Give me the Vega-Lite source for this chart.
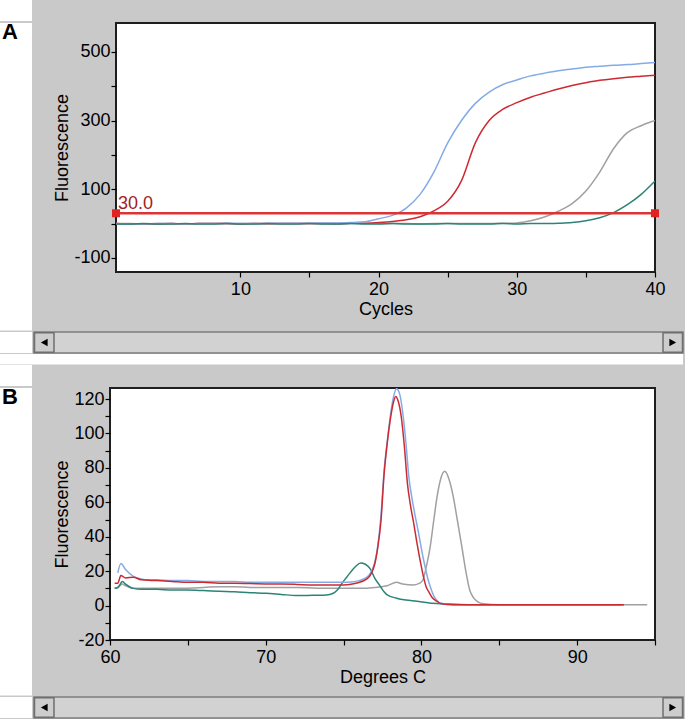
{
  "$schema": "https://vega.github.io/schema/vega-lite/v6.json",
  "background": "#c9c9c9",
  "padding": 0,
  "spacing": 0,
  "config": {
    "view": {"stroke": null},
    "font": "Liberation Sans",
    "axis": {"grid": false, "domain": false, "tickColor": "#000", "tickSize": 5, "tickWidth": 1.2, "labelColor": "#000", "labelFontSize": 18, "labelFont": "Liberation Sans", "titleFont": "Liberation Sans", "titleFontSize": 18, "titleFontWeight": "normal", "titleColor": "#000", "labelFlush": false, "labelOverlap": false},
    "axisX": {"labelPadding": 3, "titlePadding": 2},
    "axisY": {"labelPadding": 1, "titlePadding": 2}
  },
  "datasets": {
    "ampl": [
      {"cycle":1,"fluor":0,"series":"gray"},{"cycle":2,"fluor":0,"series":"gray"},{"cycle":3,"fluor":-1,"series":"gray"},{"cycle":4,"fluor":0,"series":"gray"},{"cycle":5,"fluor":0,"series":"gray"},{"cycle":6,"fluor":-1,"series":"gray"},{"cycle":7,"fluor":0,"series":"gray"},{"cycle":8,"fluor":0,"series":"gray"},{"cycle":9,"fluor":0,"series":"gray"},{"cycle":10,"fluor":0,"series":"gray"},
      {"cycle":11,"fluor":0,"series":"gray"},{"cycle":12,"fluor":-1,"series":"gray"},{"cycle":13,"fluor":0,"series":"gray"},{"cycle":14,"fluor":0,"series":"gray"},{"cycle":15,"fluor":0,"series":"gray"},{"cycle":16,"fluor":0,"series":"gray"},{"cycle":17,"fluor":-1,"series":"gray"},{"cycle":18,"fluor":0,"series":"gray"},{"cycle":19,"fluor":0,"series":"gray"},{"cycle":20,"fluor":0,"series":"gray"},
      {"cycle":21,"fluor":0,"series":"gray"},{"cycle":22,"fluor":0,"series":"gray"},{"cycle":23,"fluor":-1,"series":"gray"},{"cycle":24,"fluor":0,"series":"gray"},{"cycle":25,"fluor":0,"series":"gray"},{"cycle":26,"fluor":0,"series":"gray"},{"cycle":27,"fluor":0,"series":"gray"},{"cycle":28,"fluor":0,"series":"gray"},{"cycle":29,"fluor":1,"series":"gray"},{"cycle":30,"fluor":2,"series":"gray"},
      {"cycle":31,"fluor":8,"series":"gray"},{"cycle":32,"fluor":19,"series":"gray"},{"cycle":33,"fluor":36,"series":"gray"},{"cycle":34,"fluor":58,"series":"gray"},{"cycle":35,"fluor":95,"series":"gray"},{"cycle":36,"fluor":150,"series":"gray"},{"cycle":37,"fluor":218,"series":"gray"},{"cycle":38,"fluor":265,"series":"gray"},{"cycle":39,"fluor":285,"series":"gray"},{"cycle":40,"fluor":300,"series":"gray"},
      {"cycle":1,"fluor":0,"series":"red"},{"cycle":2,"fluor":-1,"series":"red"},{"cycle":3,"fluor":-1,"series":"red"},{"cycle":4,"fluor":-1,"series":"red"},{"cycle":5,"fluor":0,"series":"red"},{"cycle":6,"fluor":-1,"series":"red"},{"cycle":7,"fluor":0,"series":"red"},{"cycle":8,"fluor":0,"series":"red"},{"cycle":9,"fluor":0,"series":"red"},{"cycle":10,"fluor":-1,"series":"red"},
      {"cycle":11,"fluor":0,"series":"red"},{"cycle":12,"fluor":0,"series":"red"},{"cycle":13,"fluor":0,"series":"red"},{"cycle":14,"fluor":0,"series":"red"},{"cycle":15,"fluor":0,"series":"red"},{"cycle":16,"fluor":0,"series":"red"},{"cycle":17,"fluor":0,"series":"red"},{"cycle":18,"fluor":1,"series":"red"},{"cycle":19,"fluor":1,"series":"red"},{"cycle":20,"fluor":3,"series":"red"},
      {"cycle":21,"fluor":6,"series":"red"},{"cycle":22,"fluor":11,"series":"red"},{"cycle":23,"fluor":20,"series":"red"},{"cycle":24,"fluor":37,"series":"red"},{"cycle":25,"fluor":65,"series":"red"},{"cycle":26,"fluor":125,"series":"red"},{"cycle":27,"fluor":235,"series":"red"},{"cycle":28,"fluor":300,"series":"red"},{"cycle":29,"fluor":333,"series":"red"},{"cycle":30,"fluor":352,"series":"red"},
      {"cycle":31,"fluor":368,"series":"red"},{"cycle":32,"fluor":380,"series":"red"},{"cycle":33,"fluor":392,"series":"red"},{"cycle":34,"fluor":402,"series":"red"},{"cycle":35,"fluor":410,"series":"red"},{"cycle":36,"fluor":417,"series":"red"},{"cycle":37,"fluor":422,"series":"red"},{"cycle":38,"fluor":426,"series":"red"},{"cycle":39,"fluor":429,"series":"red"},{"cycle":40,"fluor":432,"series":"red"},
      {"cycle":1,"fluor":0,"series":"blue"},{"cycle":2,"fluor":-1,"series":"blue"},{"cycle":3,"fluor":-1,"series":"blue"},{"cycle":4,"fluor":0,"series":"blue"},{"cycle":5,"fluor":0,"series":"blue"},{"cycle":6,"fluor":-1,"series":"blue"},{"cycle":7,"fluor":0,"series":"blue"},{"cycle":8,"fluor":0,"series":"blue"},{"cycle":9,"fluor":1,"series":"blue"},{"cycle":10,"fluor":0,"series":"blue"},
      {"cycle":11,"fluor":0,"series":"blue"},{"cycle":12,"fluor":1,"series":"blue"},{"cycle":13,"fluor":1,"series":"blue"},{"cycle":14,"fluor":1,"series":"blue"},{"cycle":15,"fluor":1,"series":"blue"},{"cycle":16,"fluor":2,"series":"blue"},{"cycle":17,"fluor":2,"series":"blue"},{"cycle":18,"fluor":3,"series":"blue"},{"cycle":19,"fluor":5,"series":"blue"},{"cycle":20,"fluor":14,"series":"blue"},
      {"cycle":21,"fluor":24,"series":"blue"},{"cycle":22,"fluor":45,"series":"blue"},{"cycle":23,"fluor":85,"series":"blue"},{"cycle":24,"fluor":150,"series":"blue"},{"cycle":25,"fluor":235,"series":"blue"},{"cycle":26,"fluor":300,"series":"blue"},{"cycle":27,"fluor":350,"series":"blue"},{"cycle":28,"fluor":383,"series":"blue"},{"cycle":29,"fluor":405,"series":"blue"},{"cycle":30,"fluor":418,"series":"blue"},
      {"cycle":31,"fluor":430,"series":"blue"},{"cycle":32,"fluor":438,"series":"blue"},{"cycle":33,"fluor":445,"series":"blue"},{"cycle":34,"fluor":450,"series":"blue"},{"cycle":35,"fluor":455,"series":"blue"},{"cycle":36,"fluor":458,"series":"blue"},{"cycle":37,"fluor":461,"series":"blue"},{"cycle":38,"fluor":463,"series":"blue"},{"cycle":39,"fluor":466,"series":"blue"},{"cycle":40,"fluor":469,"series":"blue"},
      {"cycle":1,"fluor":-1,"series":"teal"},{"cycle":2,"fluor":-1,"series":"teal"},{"cycle":3,"fluor":0,"series":"teal"},{"cycle":4,"fluor":-1,"series":"teal"},{"cycle":5,"fluor":-1,"series":"teal"},{"cycle":6,"fluor":0,"series":"teal"},{"cycle":7,"fluor":-1,"series":"teal"},{"cycle":8,"fluor":-1,"series":"teal"},{"cycle":9,"fluor":0,"series":"teal"},{"cycle":10,"fluor":-1,"series":"teal"},
      {"cycle":11,"fluor":-1,"series":"teal"},{"cycle":12,"fluor":0,"series":"teal"},{"cycle":13,"fluor":-1,"series":"teal"},{"cycle":14,"fluor":-1,"series":"teal"},{"cycle":15,"fluor":0,"series":"teal"},{"cycle":16,"fluor":-1,"series":"teal"},{"cycle":17,"fluor":-1,"series":"teal"},{"cycle":18,"fluor":0,"series":"teal"},{"cycle":19,"fluor":-1,"series":"teal"},{"cycle":20,"fluor":-1,"series":"teal"},
      {"cycle":21,"fluor":0,"series":"teal"},{"cycle":22,"fluor":-1,"series":"teal"},{"cycle":23,"fluor":-1,"series":"teal"},{"cycle":24,"fluor":-1,"series":"teal"},{"cycle":25,"fluor":0,"series":"teal"},{"cycle":26,"fluor":-1,"series":"teal"},{"cycle":27,"fluor":-1,"series":"teal"},{"cycle":28,"fluor":-1,"series":"teal"},{"cycle":29,"fluor":0,"series":"teal"},{"cycle":30,"fluor":-1,"series":"teal"},
      {"cycle":31,"fluor":0,"series":"teal"},{"cycle":32,"fluor":0,"series":"teal"},{"cycle":33,"fluor":1,"series":"teal"},{"cycle":34,"fluor":3,"series":"teal"},{"cycle":35,"fluor":8,"series":"teal"},{"cycle":36,"fluor":17,"series":"teal"},{"cycle":37,"fluor":32,"series":"teal"},{"cycle":38,"fluor":55,"series":"teal"},{"cycle":39,"fluor":85,"series":"teal"},{"cycle":40,"fluor":124,"series":"teal"}
    ],
    "melt": [
      {"temp":60.3,"fluor":10,"series":"gray"},{"temp":60.5,"fluor":10.5,"series":"gray"},{"temp":60.8,"fluor":12.5,"series":"gray"},{"temp":61.0,"fluor":11.5,"series":"gray"},{"temp":61.5,"fluor":10,"series":"gray"},{"temp":62,"fluor":10,"series":"gray"},{"temp":64,"fluor":10,"series":"gray"},{"temp":66,"fluor":10.5,"series":"gray"},{"temp":67,"fluor":11,"series":"gray"},{"temp":68,"fluor":11,"series":"gray"},{"temp":69,"fluor":10.5,"series":"gray"},{"temp":70,"fluor":10.5,"series":"gray"},{"temp":72,"fluor":10.5,"series":"gray"},{"temp":74,"fluor":10,"series":"gray"},{"temp":75,"fluor":10,"series":"gray"},{"temp":76,"fluor":10,"series":"gray"},{"temp":77,"fluor":10.5,"series":"gray"},{"temp":77.8,"fluor":11.5,"series":"gray"},{"temp":78.4,"fluor":13.5,"series":"gray"},{"temp":78.8,"fluor":12.5,"series":"gray"},{"temp":79.5,"fluor":12,"series":"gray"},{"temp":79.9,"fluor":13,"series":"gray"},{"temp":80.1,"fluor":15,"series":"gray"},{"temp":80.3,"fluor":22,"series":"gray"},{"temp":80.56,"fluor":34,"series":"gray"},{"temp":80.8,"fluor":50,"series":"gray"},{"temp":81.0,"fluor":63,"series":"gray"},{"temp":81.25,"fluor":74,"series":"gray"},{"temp":81.5,"fluor":78,"series":"gray"},{"temp":81.75,"fluor":74,"series":"gray"},{"temp":82.05,"fluor":63,"series":"gray"},{"temp":82.3,"fluor":50,"series":"gray"},{"temp":82.6,"fluor":34,"series":"gray"},{"temp":82.85,"fluor":20,"series":"gray"},{"temp":83.1,"fluor":9,"series":"gray"},{"temp":83.35,"fluor":4.5,"series":"gray"},{"temp":83.6,"fluor":2.3,"series":"gray"},{"temp":84,"fluor":1,"series":"gray"},{"temp":85,"fluor":0.5,"series":"gray"},{"temp":88,"fluor":0.5,"series":"gray"},{"temp":91,"fluor":0.5,"series":"gray"},{"temp":94.5,"fluor":0.5,"series":"gray"},
      {"temp":60.3,"fluor":10,"series":"teal"},{"temp":60.5,"fluor":10.5,"series":"teal"},{"temp":60.8,"fluor":14,"series":"teal"},{"temp":61.0,"fluor":12.5,"series":"teal"},{"temp":61.5,"fluor":10,"series":"teal"},{"temp":62,"fluor":9.5,"series":"teal"},{"temp":63,"fluor":9.5,"series":"teal"},{"temp":64,"fluor":9,"series":"teal"},{"temp":65,"fluor":9,"series":"teal"},{"temp":66,"fluor":8.7,"series":"teal"},{"temp":67,"fluor":8.3,"series":"teal"},{"temp":68,"fluor":8,"series":"teal"},{"temp":69,"fluor":7.5,"series":"teal"},{"temp":70,"fluor":7.2,"series":"teal"},{"temp":71,"fluor":6.5,"series":"teal"},{"temp":72,"fluor":5.8,"series":"teal"},{"temp":73,"fluor":6.0,"series":"teal"},{"temp":73.9,"fluor":6.2,"series":"teal"},{"temp":74.3,"fluor":7,"series":"teal"},{"temp":74.6,"fluor":9,"series":"teal"},{"temp":74.9,"fluor":13,"series":"teal"},{"temp":75.2,"fluor":16.5,"series":"teal"},{"temp":75.5,"fluor":20,"series":"teal"},{"temp":75.8,"fluor":23,"series":"teal"},{"temp":76.1,"fluor":24.7,"series":"teal"},{"temp":76.4,"fluor":24,"series":"teal"},{"temp":76.7,"fluor":21.5,"series":"teal"},{"temp":77.0,"fluor":16,"series":"teal"},{"temp":77.3,"fluor":12,"series":"teal"},{"temp":77.6,"fluor":8,"series":"teal"},{"temp":77.8,"fluor":6.2,"series":"teal"},{"temp":78.4,"fluor":4.3,"series":"teal"},{"temp":79,"fluor":3.2,"series":"teal"},{"temp":79.7,"fluor":2.5,"series":"teal"},{"temp":80.5,"fluor":1.5,"series":"teal"},{"temp":81.5,"fluor":1,"series":"teal"},{"temp":83,"fluor":0.5,"series":"teal"},{"temp":86,"fluor":0.5,"series":"teal"},{"temp":89,"fluor":0.5,"series":"teal"},{"temp":92.8,"fluor":0.5,"series":"teal"},
      {"temp":60.5,"fluor":19,"series":"blue"},{"temp":60.7,"fluor":24.5,"series":"blue"},{"temp":61.0,"fluor":21,"series":"blue"},{"temp":61.5,"fluor":17,"series":"blue"},{"temp":62.0,"fluor":15.5,"series":"blue"},{"temp":62.5,"fluor":15,"series":"blue"},{"temp":63,"fluor":15,"series":"blue"},{"temp":64,"fluor":14.5,"series":"blue"},{"temp":65,"fluor":14.5,"series":"blue"},{"temp":66,"fluor":14,"series":"blue"},{"temp":67,"fluor":14,"series":"blue"},{"temp":68,"fluor":14,"series":"blue"},{"temp":69,"fluor":13.5,"series":"blue"},{"temp":70,"fluor":13.5,"series":"blue"},{"temp":72,"fluor":13.5,"series":"blue"},{"temp":74,"fluor":13.5,"series":"blue"},{"temp":75,"fluor":13.5,"series":"blue"},{"temp":75.5,"fluor":13.7,"series":"blue"},{"temp":76.0,"fluor":14.5,"series":"blue"},{"temp":76.5,"fluor":16.5,"series":"blue"},{"temp":76.8,"fluor":20,"series":"blue"},{"temp":77.0,"fluor":25,"series":"blue"},{"temp":77.2,"fluor":35,"series":"blue"},{"temp":77.4,"fluor":52,"series":"blue"},{"temp":77.6,"fluor":78,"series":"blue"},{"temp":77.8,"fluor":95,"series":"blue"},{"temp":78.0,"fluor":110,"series":"blue"},{"temp":78.2,"fluor":121,"series":"blue"},{"temp":78.4,"fluor":126,"series":"blue"},{"temp":78.6,"fluor":123,"series":"blue"},{"temp":78.8,"fluor":112,"series":"blue"},{"temp":79.0,"fluor":95,"series":"blue"},{"temp":79.2,"fluor":74,"series":"blue"},{"temp":79.4,"fluor":62,"series":"blue"},{"temp":79.6,"fluor":52,"series":"blue"},{"temp":79.8,"fluor":43,"series":"blue"},{"temp":80.0,"fluor":33,"series":"blue"},{"temp":80.2,"fluor":24,"series":"blue"},{"temp":80.4,"fluor":16,"series":"blue"},{"temp":80.6,"fluor":10,"series":"blue"},{"temp":80.8,"fluor":5.5,"series":"blue"},{"temp":81.0,"fluor":3,"series":"blue"},{"temp":81.2,"fluor":1.5,"series":"blue"},{"temp":81.7,"fluor":0.8,"series":"blue"},{"temp":82,"fluor":0.5,"series":"blue"},{"temp":86,"fluor":0.5,"series":"blue"},{"temp":90,"fluor":0.5,"series":"blue"},{"temp":93,"fluor":0.5,"series":"blue"},
      {"temp":60.3,"fluor":13,"series":"red"},{"temp":60.5,"fluor":13,"series":"red"},{"temp":60.7,"fluor":17.5,"series":"red"},{"temp":61.0,"fluor":16,"series":"red"},{"temp":61.5,"fluor":16.5,"series":"red"},{"temp":62,"fluor":15,"series":"red"},{"temp":63,"fluor":14.5,"series":"red"},{"temp":64,"fluor":14,"series":"red"},{"temp":65,"fluor":13.5,"series":"red"},{"temp":66,"fluor":13.5,"series":"red"},{"temp":67,"fluor":13,"series":"red"},{"temp":68,"fluor":13,"series":"red"},{"temp":69,"fluor":12.8,"series":"red"},{"temp":70,"fluor":12.6,"series":"red"},{"temp":71,"fluor":12.5,"series":"red"},{"temp":72,"fluor":12.3,"series":"red"},{"temp":73,"fluor":12,"series":"red"},{"temp":74,"fluor":12,"series":"red"},{"temp":75,"fluor":12,"series":"red"},{"temp":75.8,"fluor":13,"series":"red"},{"temp":76.5,"fluor":15.5,"series":"red"},{"temp":76.8,"fluor":19,"series":"red"},{"temp":77.0,"fluor":24,"series":"red"},{"temp":77.2,"fluor":34,"series":"red"},{"temp":77.4,"fluor":49,"series":"red"},{"temp":77.6,"fluor":76,"series":"red"},{"temp":77.8,"fluor":94,"series":"red"},{"temp":78.0,"fluor":108,"series":"red"},{"temp":78.2,"fluor":118,"series":"red"},{"temp":78.35,"fluor":121.5,"series":"red"},{"temp":78.5,"fluor":119,"series":"red"},{"temp":78.7,"fluor":110,"series":"red"},{"temp":78.9,"fluor":93,"series":"red"},{"temp":79.1,"fluor":71,"series":"red"},{"temp":79.3,"fluor":58,"series":"red"},{"temp":79.5,"fluor":48,"series":"red"},{"temp":79.7,"fluor":37,"series":"red"},{"temp":79.9,"fluor":27,"series":"red"},{"temp":80.1,"fluor":18,"series":"red"},{"temp":80.3,"fluor":11,"series":"red"},{"temp":80.5,"fluor":7.5,"series":"red"},{"temp":80.7,"fluor":4.5,"series":"red"},{"temp":81.0,"fluor":2.5,"series":"red"},{"temp":81.3,"fluor":1,"series":"red"},{"temp":82,"fluor":0.5,"series":"red"},{"temp":86,"fluor":0.5,"series":"red"},{"temp":90,"fluor":0.5,"series":"red"},{"temp":93,"fluor":0.5,"series":"red"}
    ]
  },
  "vconcat": [
    {"width": 32, "height": 21, "view": {"fill": "white", "stroke": null}, "data": {"values": []}, "mark": "point"},
    {
      "spacing": 20,
      "hconcat": [
        {
          "width": 32, "height": 307.5,
          "view": {"fill": "white", "stroke": null},
          "data": {"values": [{"panel": "A"}]},
          "mark": {"type": "text", "fontSize": 22, "fontWeight": "bold", "align": "left", "baseline": "top", "dx": -14, "dy": -154.75, "color": "#000"},
          "encoding": {"text": {"field": "panel"}}
        },
        {
          "width": 539, "height": 249,
          "view": {"fill": "white", "stroke": "#1e1e1e", "strokeWidth": 2},
          "encoding": {
            "x": {"field": "cycle", "type": "quantitative", "title": "Cycles",
                  "scale": {"domain": [1, 40], "nice": false, "zero": false},
                  "axis": {"values": [10, 15, 20, 25, 30, 35, 40], "labelExpr": "datum.value % 10 === 0 ? datum.label : ''"}},
            "y": {"field": "fluor", "type": "quantitative", "title": "Fluorescence",
                  "scale": {"domain": [-141, 584], "nice": false, "zero": false},
                  "axis": {"values": [-100, 0, 100, 200, 300, 400, 500], "labelExpr": "datum.value % 200 !== 0 ? replace(datum.label, '\u2212', '-') : ''"}}
          },
          "layer": [
            {
              "data": {"name": "ampl"},
              "mark": {"type": "line", "strokeWidth": 1.5, "clip": true, "interpolate": "monotone"},
              "encoding": {
                "color": {"field": "series", "type": "nominal", "legend": null,
                          "scale": {"domain": ["blue", "red", "gray", "teal"], "range": ["#84abe6", "#cc2a33", "#a0a0a0", "#2b8475"]}}
              }
            },
            {
              "data": {"values": [{"cycle": 1, "cycle_end": 40, "fluor": 30}]},
              "mark": {"type": "rule", "color": "#dc3434", "strokeWidth": 2.5},
              "encoding": {"x2": {"field": "cycle_end"}}
            },
            {
              "data": {"values": [{"cycle": 1, "fluor": 30}, {"cycle": 40, "fluor": 30}]},
              "mark": {"type": "point", "shape": "square", "size": 64, "filled": true, "color": "#e02424", "opacity": 1, "clip": false}
            },
            {
              "data": {"values": [{"cycle": 1, "fluor": 30, "label": "30.0"}]},
              "mark": {"type": "text", "align": "left", "baseline": "alphabetic", "dx": 2, "dy": -4, "fontSize": 18, "color": "#a41c1c"},
              "encoding": {"text": {"field": "label"}}
            }
          ]
        }
      ]
    },
    {
      "spacing": 0,
      "hconcat": [
        {"width": 32, "height": 21, "view": {"fill": "white", "stroke": null}, "data": {"values": []}, "mark": "point"},
        {
          "width": 649, "height": 21,
          "view": {"fill": "#d2d2d2", "stroke": "#7d7d7d", "strokeWidth": 1.5},
          "data": {"values": [{"side": "left"}, {"side": "right"}]},
          "encoding": {"x": {"field": "side", "type": "nominal", "scale": {"type": "point", "padding": 0.0163}, "axis": null}},
          "layer": [
            {"mark": {"type": "point", "shape": "square", "size": 380, "filled": true, "fill": "#cdcdcd", "stroke": "#6f6f6f", "strokeWidth": 1.5, "strokeJoin": "round", "opacity": 1}},
            {"mark": {"type": "point", "filled": true, "size": 60, "color": "#000", "opacity": 1},
             "encoding": {"shape": {"field": "side", "type": "nominal", "legend": null, "scale": {"domain": ["left", "right"], "range": ["triangle-left", "triangle-right"]}}}}
          ]
        }
      ]
    },
    {"width": 683, "height": 10.5, "view": {"fill": "white", "stroke": null}, "data": {"values": []}, "mark": "point"},
    {"width": 32, "height": 21, "view": {"fill": "white", "stroke": null}, "data": {"values": []}, "mark": "point"},
    {
      "spacing": 20,
      "hconcat": [
        {
          "width": 32, "height": 307.5,
          "view": {"fill": "white", "stroke": null},
          "data": {"values": [{"panel": "B"}]},
          "mark": {"type": "text", "fontSize": 22, "fontWeight": "bold", "align": "left", "baseline": "top", "dx": -14, "dy": -154.75, "color": "#000"},
          "encoding": {"text": {"field": "panel"}}
        },
        {
          "width": 545, "height": 252,
          "view": {"fill": "white", "stroke": "#1e1e1e", "strokeWidth": 2},
          "data": {"name": "melt"},
          "mark": {"type": "line", "strokeWidth": 1.5, "clip": true, "interpolate": "monotone"},
          "encoding": {
            "x": {"field": "temp", "type": "quantitative", "title": "Degrees C",
                  "scale": {"domain": [60, 95], "nice": false, "zero": false},
                  "axis": {"values": [60, 65, 70, 75, 80, 85, 90, 95], "labelExpr": "datum.value % 10 === 0 ? datum.label : ''"}},
            "y": {"field": "fluor", "type": "quantitative", "title": "Fluorescence",
                  "scale": {"domain": [-20, 126.4], "nice": false, "zero": false},
                  "axis": {"values": [-20, -10, 0, 10, 20, 30, 40, 50, 60, 70, 80, 90, 100, 110, 120], "labelExpr": "datum.value % 20 === 0 ? replace(datum.label, '\u2212', '-') : ''"}},
            "color": {"field": "series", "type": "nominal", "legend": null,
                      "scale": {"domain": ["blue", "red", "gray", "teal"], "range": ["#84abe6", "#cc2a33", "#8f8f8f", "#2b8475"]}}
          }
        }
      ]
    },
    {
      "spacing": 0,
      "hconcat": [
        {"width": 32, "height": 21, "view": {"fill": "white", "stroke": null}, "data": {"values": []}, "mark": "point"},
        {
          "width": 649, "height": 21,
          "view": {"fill": "#d2d2d2", "stroke": "#7d7d7d", "strokeWidth": 1.5},
          "data": {"values": [{"side": "left"}, {"side": "right"}]},
          "encoding": {"x": {"field": "side", "type": "nominal", "scale": {"type": "point", "padding": 0.0163}, "axis": null}},
          "layer": [
            {"mark": {"type": "point", "shape": "square", "size": 380, "filled": true, "fill": "#cdcdcd", "stroke": "#6f6f6f", "strokeWidth": 1.5, "strokeJoin": "round", "opacity": 1}},
            {"mark": {"type": "point", "filled": true, "size": 60, "color": "#000", "opacity": 1},
             "encoding": {"shape": {"field": "side", "type": "nominal", "legend": null, "scale": {"domain": ["left", "right"], "range": ["triangle-left", "triangle-right"]}}}}
          ]
        }
      ]
    }
  ]
}
